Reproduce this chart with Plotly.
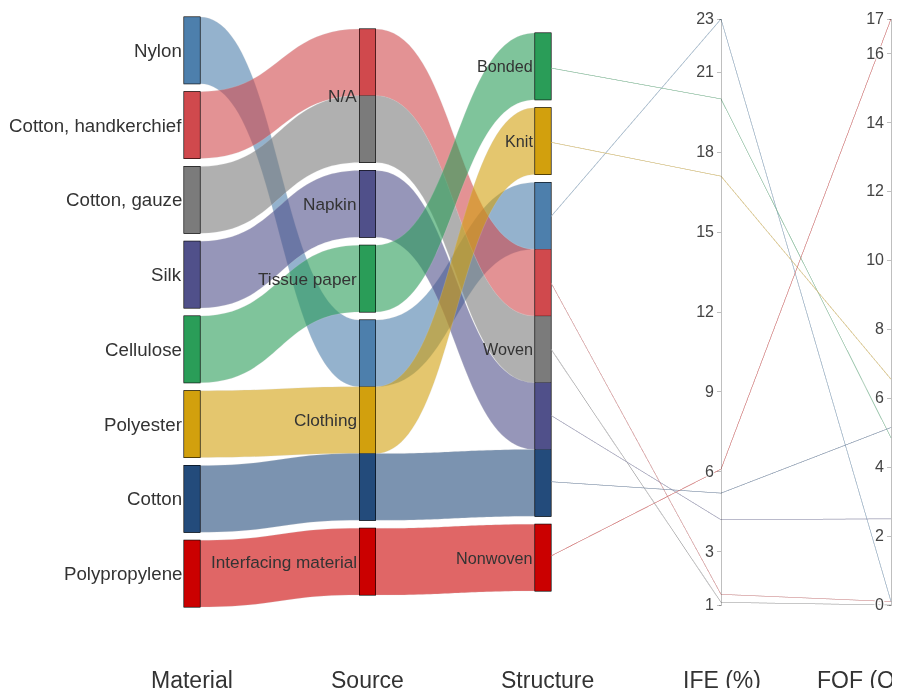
import plotly.graph_objects as go

# ---------------- data ----------------
materials = ["Nylon", "Cotton, handkerchief", "Cotton, gauze", "Silk",
             "Cellulose", "Polyester", "Cotton", "Polypropylene"]
sources = ["Clothing", "N/A", "N/A", "Napkin",
           "Tissue paper", "Clothing", "Clothing", "Interfacing material"]
structures = ["Woven", "Woven", "Woven", "Woven",
              "Bonded", "Knit", "Woven", "Nonwoven"]
ife = [23.0, 1.4, 1.1, 4.2, 20.0, 17.1, 5.2, 6.1]        # IFE (%)
fqf = [0.1, 0.1, 0.0, 2.5, 4.85, 6.55, 5.15, 17.0]       # FQF (Q)

source_order = ["N/A", "Napkin", "Tissue paper", "Clothing", "Interfacing material"]
structure_order = ["Bonded", "Knit", "Woven", "Nonwoven"]

ife_ticks = [1, 3, 6, 9, 12, 15, 18, 21, 23]
fqf_ticks = [0, 2, 4, 6, 8, 10, 12, 14, 16, 17]

material_colors = ["#4d7fac", "#d0494d", "#7b7b7b", "#50508a",
                   "#2a9d58", "#d2a00d", "#234b7b", "#cb0000"]

# ---------------- layout constants (figure px; page has an 8px body margin) ----------------
W, Hfig = 884, 680
M_T, M_B = 9, 81
H = Hfig - M_T - M_B                  # plot-area height (parcats trace height)
FONT = "Liberation Sans, Arial, sans-serif"
TXT = "#333"

pc_x0, pc_w = 136, 447.5              # parcats trace box (bars sit 40px inside)
pk_x0, pk_x1 = 543, 884               # parcoords: Structure -> IFE -> FQF

N = len(materials)
CAT_GAP = 8   # plotly parcats category spacing
n_max = max(len(materials), len(source_order), len(structure_order))
band = (H - CAT_GAP * (n_max - 1)) / N


def band_centers(values, order):
    """Centers (px from trace top) of each item's band and each category,
    following parcats' forward path sorting."""
    y = (n_max - len(order)) * CAT_GAP / 2.0
    item_c = [0.0] * N
    cat_c = {}
    for cat in order:
        idx = [i for i in range(N) if values[i] == cat]
        cat_c[cat] = y + len(idx) * band / 2.0
        for k, i in enumerate(idx):
            item_c[i] = y + (k + 0.5) * band
        y += len(idx) * band + CAT_GAP
    return item_c, cat_c


mat_item_c, mat_cat_c = band_centers(materials, materials)
src_item_c, src_cat_c = band_centers(sources, source_order)
str_item_c, str_cat_c = band_centers(structures, structure_order)


def hex_rgb(h):
    h = h.lstrip("#")
    return int(h[0:2], 16), int(h[2:4], 16), int(h[4:6], 16)


def light(h, a=0.6, alpha=0.9):
    r, g, b = hex_rgb(h)
    f = lambda v: int(round(v * a + 255 * (1 - a)))
    return "rgba(%d,%d,%d,%.2f)" % (f(r), f(g), f(b), alpha)


color_idx = list(range(N))
cs_bands = [[i / (N - 1), c] for i, c in enumerate(material_colors)]
cs_lines = [[i / (N - 1), light(c)] for i, c in enumerate(material_colors)]

fig = go.Figure()

fig.add_trace(go.Parcats(
    domain=dict(x=[pc_x0 / W, (pc_x0 + pc_w) / W], y=[0, 1]),
    dimensions=[
        dict(label="", values=materials, categoryorder="array",
             categoryarray=materials, ticktext=[" "] * len(materials)),
        dict(label="", values=sources, categoryorder="array",
             categoryarray=source_order, ticktext=[" "] * len(source_order)),
        dict(label="", values=structures, categoryorder="array",
             categoryarray=structure_order, ticktext=[" "] * len(structure_order)),
    ],
    line=dict(color=color_idx, colorscale=cs_bands, cmin=0, cmax=N - 1,
              shape="hspline"),
    bundlecolors=False,
    sortpaths="forward",
    arrangement="fixed",
    hoverinfo="skip",
    tickfont=dict(family=FONT, size=17, color=TXT),
    labelfont=dict(family=FONT, size=1, color="rgba(0,0,0,0)"),
))

struct_vals = [H - c for c in str_item_c]
fig.add_trace(go.Parcoords(
    domain=dict(x=[pk_x0 / W, pk_x1 / W], y=[0, 1]),
    line=dict(color=color_idx, colorscale=cs_lines, cmin=0, cmax=N - 1),
    dimensions=[
        dict(label="", values=struct_vals, range=[0, H],
             tickvals=[H * 2], ticktext=[""]),
        dict(label="", values=ife, range=[min(ife_ticks), max(ife_ticks)],
             tickvals=ife_ticks),
        dict(label="", values=fqf, range=[min(fqf_ticks), max(fqf_ticks)],
             tickvals=fqf_ticks),
    ],
    tickfont=dict(family=FONT, size=16, color="#444"),
    rangefont=dict(family=FONT, size=1, color="rgba(0,0,0,0)"),
    labelfont=dict(family=FONT, size=1, color="rgba(0,0,0,0)"),
))

# bar positions inside the parcats trace
bar_left = [pc_x0 + 40 + k * (int(pc_w) - 96) / 2.0 for k in range(3)]
BAR_W = 16


def px_to_paper_y(c):
    return 1 - c / H


annotations = []
label_sets = [
    (materials, {m: mat_item_c[i] for i, m in enumerate(materials)}, 0, 18.7),
    (source_order, src_cat_c, 1, 17.2),
    (structure_order, str_cat_c, 2, 16.2),
]
for cats, centers, k, fsize in label_sets:
    for cname in cats:
        annotations.append(dict(
            x=(bar_left[k] - 0.5) / W, y=px_to_paper_y(centers[cname]),
            xref="paper", yref="paper", text=cname, showarrow=False,
            xanchor="right", yanchor="middle",
            font=dict(family=FONT, size=fsize, color=TXT)))

ife_x = (pk_x0 + pk_x1) / 2.0
axis_titles = [("Material", bar_left[0] + BAR_W / 2, "center"),
               ("Source", bar_left[1] + BAR_W / 2, "center"),
               ("Structure", bar_left[2] + BAR_W / 2 + 4, "center"),
               ("IFE (%)", ife_x, "center"),
               ("FQF (Q)", 807, "left")]
title_y = (M_T + H - 672) / H
for t, xp, anc in axis_titles:
    annotations.append(dict(x=xp / W, y=title_y, xref="paper", yref="paper",
                            text=t, showarrow=False, xanchor=anc, yanchor="middle",
                            font=dict(family=FONT, size=23, color=TXT)))

fig.update_layout(
    width=W, height=Hfig,
    margin=dict(l=0, r=0, t=M_T, b=M_B),
    paper_bgcolor="white", plot_bgcolor="white",
    annotations=annotations,
    showlegend=False,
)

fig.write_html("out.html")
